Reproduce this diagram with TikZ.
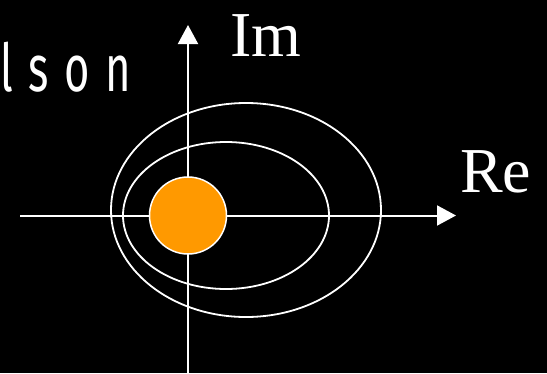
\documentclass[tikz,border=0pt]{standalone}
\usepackage{fontspec}
\usepackage{graphicx}
\setmainfont{Liberation Serif}
\newfontfamily\titlefont[LetterSpace=36]{Fira Sans}
\usepackage{tikz}
\usetikzlibrary{arrows.meta}
\definecolor{sunorange}{HTML}{FF9900}
\tikzset{>=stealth,
  axis/.style={white, line width=2pt, -{Triangle[length=19pt,width=20pt]}},
  orbit/.style={white, line width=1.8pt},
  axislabel/.style={white, anchor=base west, inner sep=0pt, font=\fontsize{64}{64}\selectfont}}

\begin{document}
\begin{tikzpicture}[x=1pt, y=-1pt]
	% black background
	\fill[black] (0,0) rectangle (547,373);
	\useasboundingbox (0,0) rectangle (547,373);
	% title, cut at the left edge
	\node[white, anchor=base west, inner sep=0pt, font=\titlefont\fontsize{66}{66}\selectfont] (title) at (0,91) {\scalebox{0.66}[1]{lson}};
	% orbits
	\draw[orbit] (226,215.5) ellipse (103 and 73.5);
	\draw[orbit] (246,210) ellipse (135 and 107);
	% axes
	\coordinate (O) at (188,215.5);
	\coordinate (reStart) at (20,215.5);
	\coordinate (reEnd) at (456,215.5);
	\coordinate (imStart) at (188,373);
	\coordinate (imEnd) at (188,25);
	\draw[axis] (reStart) -- (reEnd);
	\draw[axis] (imStart) -- (imEnd);
	\node[axislabel] (im) at (230,56) {Im};
	\node[axislabel] (re) at (460,192) {Re};
	% sun at the origin
	\node[circle, fill=sunorange, draw=white, line width=1.5pt, minimum size=77pt, inner sep=0pt] (sun) at (O) {};
\end{tikzpicture}
\end{document}
